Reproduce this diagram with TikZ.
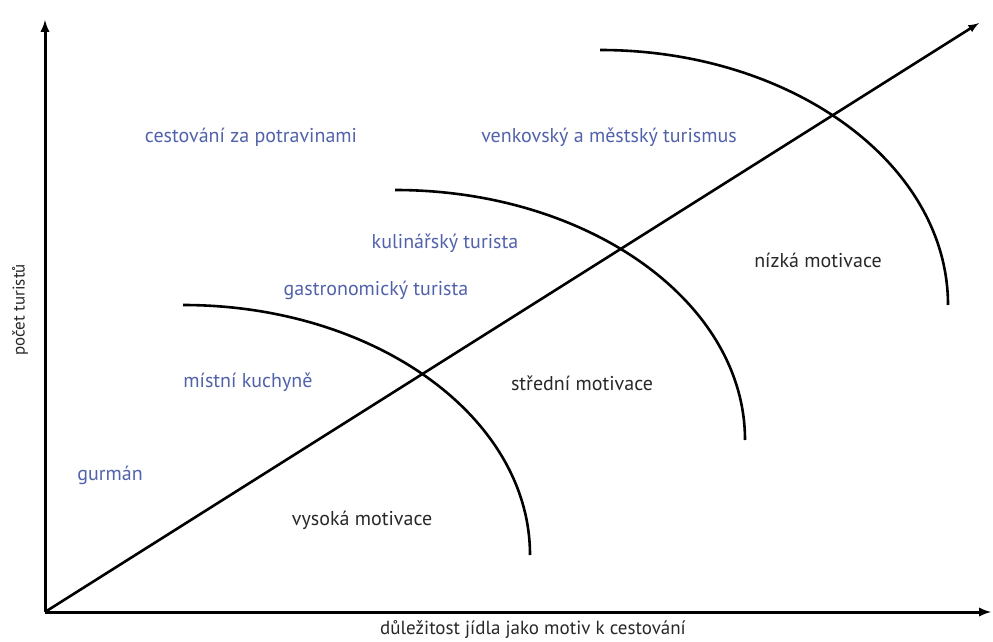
\documentclass[tikz,border=0pt]{standalone}
\usepackage{fontspec}
\setmainfont{PT Sans}
\usepackage{tikz}
\usetikzlibrary{arrows}
\definecolor{typblue}{RGB}{82,98,170}
\definecolor{motgray}{RGB}{40,40,40}

\begin{document}
\begin{tikzpicture}[x=1pt,y=1pt,line width=3pt,
  type node/.style={text=typblue,font=\fontsize{20}{24}\selectfont},
  level node/.style={text=motgray,font=\fontsize{20}{24}\selectfont},
  axis node/.style={text=motgray,font=\fontsize{19}{22}\selectfont}]

  \useasboundingbox (0,0) rectangle (993,641);

  \coordinate (O) at (45,29);
  \coordinate (ytop) at (45,621);
  \coordinate (xend) at (991,29);
  \coordinate (dend) at (979,618);

  % axes and diagonal
  \draw[-latex] (O) -- (ytop);
  \draw[-latex] (O) -- (xend);
  \draw[-latex,line width=2.6pt] (O) -- (dend);

  % arcs
  \coordinate (a1) at (183,336);
  \coordinate (a2) at (395,451);
  \coordinate (a3) at (600,591);
  \draw[line width=2.6pt] (a1) arc[start angle=90,end angle=0,x radius=347,y radius=250];
  \draw[line width=2.6pt] (a2) arc[start angle=90,end angle=0,x radius=350,y radius=250];
  \draw[line width=2.6pt] (a3) arc[start angle=90,end angle=0,x radius=348,y radius=255];

  \node[type node] (food) at (251,504) {cestování za potravinami};
  \node[type node] (rural) at (609,504) {venkovský a městský turismus};
  \node[type node] (culin) at (445,398) {kulinářský turista};
  \node[type node] (gastro) at (376,351) {gastronomický turista};
  \node[type node] (local) at (248,259) {místní kuchyně};
  \node[type node] (gourm) at (110,166) {gurmán};

  \node[level node] (low) at (818,381) {nízká motivace};
  \node[level node] (mid) at (582,258) {střední motivace};
  \node[level node] (high) at (362,121) {vysoká motivace};

  \node[axis node,rotate=90,font=\fontsize{17}{20}\selectfont] (ylab) at (20,331) {počet turistů};
  \node[axis node] (xlab) at (533,11) {důležitost jídla jako motiv k cestování};
\end{tikzpicture}
\end{document}
